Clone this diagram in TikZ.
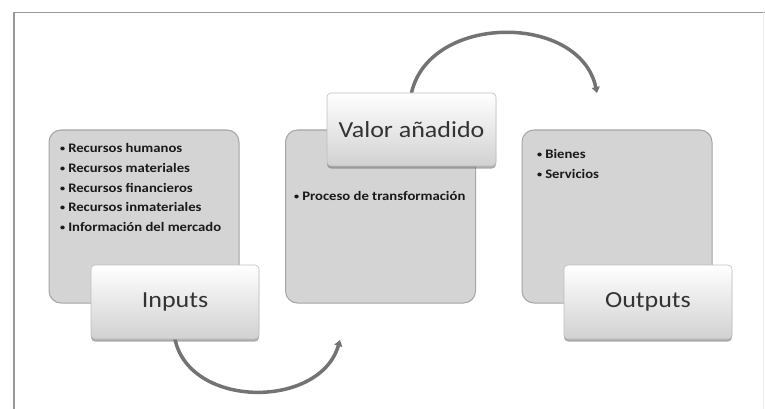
\documentclass[tikz,border=0pt]{standalone}
\usepackage{fontspec}
\setmainfont{Carlito}[FakeStretch=1.13]
\usetikzlibrary{arrows.meta,shadows,backgrounds}
\definecolor{boxfill}{RGB}{212,212,212}
\definecolor{boxline}{RGB}{165,165,165}
\definecolor{labline}{RGB}{190,190,190}
\definecolor{txt}{RGB}{25,25,25}
\newcommand{\blt}{\raisebox{1pt}{\fontsize{9}{9}\selectfont•}\hspace{3pt}}
\tikzset{
  graybox/.style={draw=boxline, line width=1pt, fill=boxfill, rounded corners=12pt,
    minimum width=190pt, minimum height=173pt, inner sep=0pt},
  labelbox/.style={draw=labline, line width=0.6pt, rounded corners=4pt, top color=white,
    bottom color=black!18, minimum width=168pt, minimum height=74pt, inner sep=0pt,
    font=\fontsize{23}{26}\selectfont, text=black!80,
    drop shadow={shadow xshift=0pt, shadow yshift=-2.5pt, fill=black!55, opacity=0.6}},
  bullets/.style={anchor=north west, align=left, inner sep=0pt, text=txt,
    font=\bfseries\fontsize{13}{19.7}\selectfont},
  flowarrow/.style={draw=black!55, line width=3.5pt, line cap=round,
    -{Triangle[width=8pt,length=6pt]}},
  frameline/.style={draw=black!40, line width=1.3pt}
}
\begin{document}
\begin{tikzpicture}[x=1pt,y=-1pt]
\useasboundingbox (0,0) rectangle (765,409);
% frame
\draw[frameline] (14,409) -- (14,12.5) -- (765,12.5);
\draw[draw=black!8, line width=0.8pt] (763,12.5) -- (763,409);
% gray boxes
\node[graybox] (b1) at (144,216.5) {};
\node[graybox] (b2) at (380.5,216.5) {};
\node[graybox] (b3) at (617,216.5) {};
% bullet texts
\node[bullets] (t1) at (60,143.5) {\blt Recursos humanos\\\blt Recursos materiales\\\blt Recursos financieros\\\blt Recursos inmateriales\\\blt Información del mercado};
\node[bullets] (t2) at (294,191.5) {\blt Proceso de transformación};
\node[bullets] (t3) at (537,149.5) {\blt Bienes\\\blt Servicios};
% label boxes
\node[labelbox] (inputs) at (175,302) {Inputs};
\node[labelbox, minimum width=169pt, minimum height=73pt] (valor) at (411.5,129.5) {Valor añadido};
\node[labelbox] (outputs) at (648,302) {Outputs};
% arrows
\coordinate (e1) at (340,340);
\coordinate (e2) at (597,93);
\begin{scope}[on background layer]
\draw[flowarrow] (inputs.south) .. controls (190,409) and (320,409) .. (e1);
\draw[flowarrow] (valor.north) .. controls (430,13) and (580,13) .. (e2);
\end{scope}
\end{tikzpicture}
\end{document}
